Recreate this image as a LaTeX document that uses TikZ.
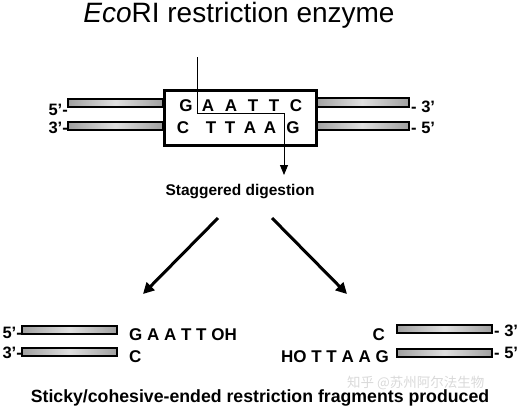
\documentclass[tikz,border=0pt]{standalone}
\usepackage{fontspec}
\setmainfont{Liberation Sans}
\newfontfamily\cjkfont{Noto Sans CJK SC}
\usetikzlibrary{arrows.meta}
\tikzset{
  bar/.style={draw=black, line width=1.1pt, left color=gray!75, right color=gray!75, middle color=gray!25},
  seqbox/.style={draw=black, line width=3pt, fill=white},
  base/.style={font=\bfseries\fontsize{17}{17}\selectfont, inner sep=0pt},
  endlbl/.style={font=\bfseries\fontsize{16.5}{16.5}\selectfont, inner sep=0pt},
  cutline/.style={line width=1pt, -{Triangle[length=10pt,width=8pt]}},
  bigarrow/.style={line width=3pt, -{Triangle[length=11pt,width=11pt]}},
}
\begin{document}
\begin{tikzpicture}[x=1pt,y=-1pt]
\useasboundingbox (0,0) rectangle (520,408);
% title
\node[inner sep=0pt, anchor=base, font=\fontsize{28}{28}\selectfont] (title) at (239,22.5) {\textit{Eco}RI restriction enzyme};
% top bars
\draw[bar] (68,99) rectangle (163,107);
\draw[bar] (68,122) rectangle (163,130);
\draw[bar] (315,98) rectangle (409,107);
\draw[bar] (315,122) rectangle (409,130);
\node[seqbox, minimum width=152pt, minimum height=55pt, anchor=north west, inner sep=0pt] (box) at (163,89) {};
% end labels
\node[endlbl, anchor=base east] (l5) at (68,115) {5’-};
\node[endlbl, anchor=base east] (l3) at (68,133) {3’-};
\node[endlbl, anchor=base west] (r3) at (411,112) {- 3’};
\node[endlbl, anchor=base west] (r5) at (411,133) {- 5’};
% sequence letters
\foreach \x/\l [count=\i] in {186/G,208/A,231/A,253/T,274/T,296/C}
  \node[base, anchor=base] (t\i) at (\x,111) {\l};
\foreach \x/\l [count=\i] in {183/C,211/T,230/T,250/A,270/A,293/G}
  \node[base, anchor=base] (b\i) at (\x,133) {\l};
% cut line
\coordinate (cs) at (197,57);
\coordinate (c1) at (197,113);
\coordinate (c2) at (284,113);
\node[inner sep=0pt, anchor=base, font=\bfseries\fontsize{15.5}{15.5}\selectfont] (stag) at (240,195) {Staggered digestion};
\coordinate (ce) at (284,175);
\draw[cutline] (cs) -- (c1) -- (c2) -- (ce);
% big arrows
\coordinate (a1s) at (218,218);
\coordinate (a1e) at (143,294);
\coordinate (a2s) at (272,218);
\coordinate (a2e) at (347,294);
\draw[bigarrow] (a1s) -- (a1e);
\draw[bigarrow] (a2s) -- (a2e);
% bottom left fragment
\draw[bar] (22,326) rectangle (117,334);
\draw[bar] (22,348) rectangle (117,356);
\node[endlbl, anchor=base east] (bl5) at (22,338) {5’-};
\node[endlbl, anchor=base east] (bl3) at (22,358) {3’-};
\node[base, anchor=base west] (fl1) at (129,340) {G A A T T OH};
\node[base, anchor=base west] (fl2) at (129,362) {C};
% bottom right fragment
\draw[bar] (397,325) rectangle (492,333);
\draw[bar] (397,349) rectangle (492,357);
\node[base, anchor=base east] (fr1) at (385,340) {C};
\node[base, anchor=base east] (fr2) at (389,362) {HO T T A A G};
\node[endlbl, anchor=base west] (br3) at (494,336) {- 3’};
\node[endlbl, anchor=base west] (br5) at (494,358) {- 5’};
% watermark
\node[inner sep=0pt, anchor=base west, text=gray!30, font=\cjkfont\fontsize{13.5}{13.5}\selectfont] (wm) at (347,387) {知乎 @苏州阿尔法生物};
% caption
\node[inner sep=0pt, anchor=base, font=\bfseries\fontsize{17.7}{17.7}\selectfont] (cap) at (260,402) {Sticky/cohesive-ended restriction fragments produced};
\end{tikzpicture}
\end{document}
